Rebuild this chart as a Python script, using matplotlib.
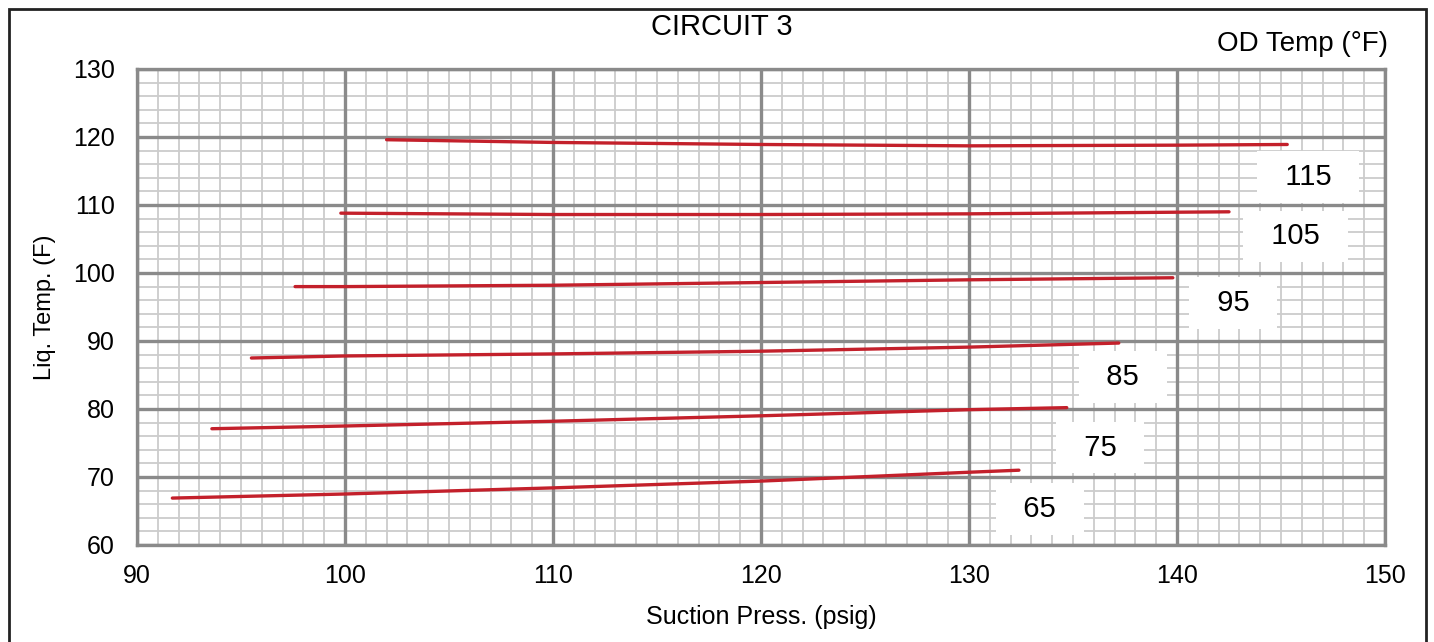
import numpy as np
import matplotlib.pyplot as plt
from matplotlib.patches import Rectangle
from matplotlib.ticker import MultipleLocator

plt.rcParams['font.family'] = ['Liberation Sans', 'DejaVu Sans']

# suction pressure (psig) vs liquid temp (F), one curve per OD temp
od_temps = [115, 105, 95, 85, 75, 65]
press = {
    115: [102.0, 110, 120, 130, 140, 145.3],
    105: [99.8, 110, 120, 130, 142.5],
    95: [97.6, 100, 110, 120, 130, 139.8],
    85: [95.5, 100, 110, 120, 130, 137.2],
    75: [93.6, 100, 110, 120, 130, 134.7],
    65: [91.7, 100, 110, 120, 130, 132.4],
}
liq = {
    115: [119.6, 119.2, 118.9, 118.7, 118.8, 118.9],
    105: [108.8, 108.6, 108.6, 108.7, 109.0],
    95: [98.0, 98.0, 98.2, 98.6, 99.0, 99.3],
    85: [87.5, 87.8, 88.1, 88.5, 89.1, 89.7],
    75: [77.1, 77.5, 78.2, 79.0, 79.9, 80.2],
    65: [66.9, 67.5, 68.4, 69.4, 70.7, 71.0],
}
# label positions (data coords)
label_x = [146.3, 145.7, 142.7, 137.4, 136.3, 133.4]
label_y = [114.1, 105.4, 95.6, 84.7, 74.3, 65.3]

fig = plt.figure(figsize=(14.34, 6.42), dpi=100)
pos = [137/1434, 1 - 545/642, (1385-137)/1434, (545-69)/642]

# background axes carries the fine grid only
bg = fig.add_axes(pos)
ax = fig.add_axes(pos, sharex=bg, sharey=bg)
ax.patch.set_alpha(0)

ax.set_xlim(90, 150)
ax.set_ylim(60, 130)
bg.xaxis.set_major_locator(MultipleLocator(10))
bg.yaxis.set_major_locator(MultipleLocator(10))
bg.xaxis.set_minor_locator(MultipleLocator(1))
bg.yaxis.set_minor_locator(MultipleLocator(2))
bg.grid(which='minor', color='#cccccc', lw=1.3)
bg.tick_params(which='both', length=0, labelbottom=False, labelleft=False)
for s in bg.spines.values():
    s.set_visible(False)

ax.grid(which='major', color='#8a8a8a', lw=2.4)
ax.grid(which='minor', visible=False)
ax.set_axisbelow(True)
ax.tick_params(which='both', length=0, labelsize=18)
ax.tick_params(axis='y', pad=16)
ax.tick_params(axis='x', pad=14)
for s in ax.spines.values():
    s.set_color('#8a8a8a')
    s.set_linewidth(2.4)

for t, lx, ly in zip(od_temps, label_x, label_y):
    ax.plot(press[t], liq[t], color='#c3202b', lw=2.4, solid_capstyle='round', zorder=3)
    ax.text(lx, ly, f'  {t}  ', fontsize=21, ha='center', va='center', zorder=4,
            bbox=dict(boxstyle='square,pad=0.4', fc='white', ec='none'))

ax.set_xlabel('Suction Press. (psig)', fontsize=18, labelpad=12)
ax.set_ylabel('Liq. Temp. (F)', fontsize=17, labelpad=12)

fig.text(722/1434, 1 - 27/642, 'CIRCUIT 3', fontsize=21, ha='center', va='center')
fig.text(1388/1434, 1 - 44/642, 'OD Temp (°F)', fontsize=20, ha='right', va='center')

# outer frame (bottom edge falls outside the image)
fig.patches.append(Rectangle((9/1434, -0.05), (1426-9)/1434, 1.05 - 9/642,
                             transform=fig.transFigure, fill=False,
                             ec='#222222', lw=2))

fig.savefig('out.png', dpi=100)
